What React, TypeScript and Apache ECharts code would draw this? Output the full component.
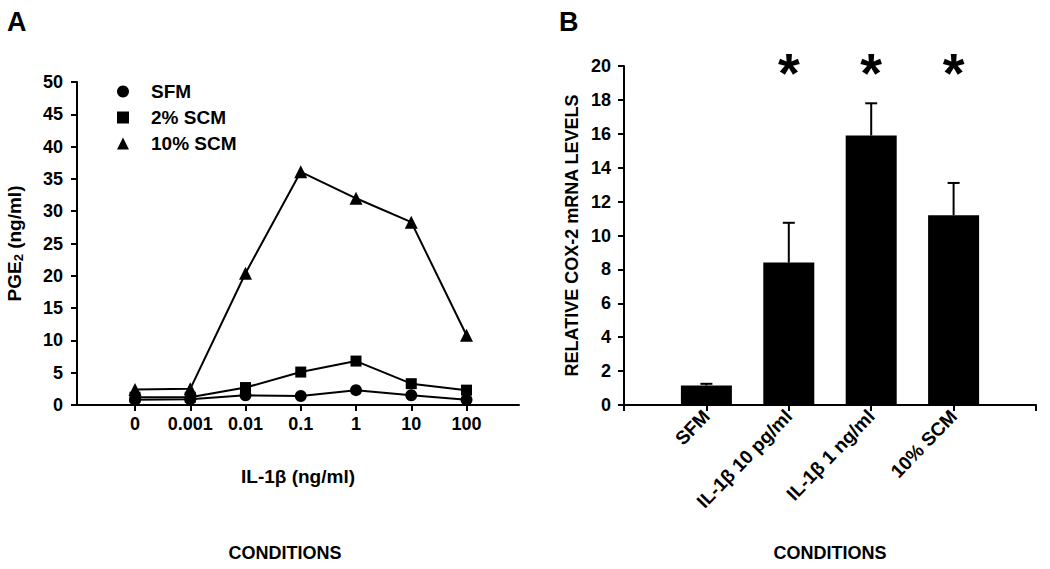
import React, { useEffect, useRef } from "react";
import * as echarts from "echarts";

// Panel A data
const doseLabels = ["0", "0.001", "0.01", "0.1", "1", "10", "100"];
const sfmValues = [0.8, 0.9, 1.5, 1.4, 2.3, 1.5, 0.8];
const scm2Values = [1.2, 1.2, 2.7, 5.1, 6.8, 3.3, 2.3];
const scm10Values = [2.4, 2.5, 20.4, 36.1, 32.0, 28.3, 10.8];

// Panel B data
const conditionLabels = ["", "SFM", "IL-1β 10 pg/ml", "IL-1β 1 ng/ml", "10% SCM", ""];
const mrnaValues = [null, 1.15, 8.4, 15.9, 11.2, null];
const mrnaErrors = [null, 0.1, 2.35, 1.9, 1.9, null];
const significant = [false, false, true, true, true, false];
const starLevel = 19.6;

const FONT = "'Liberation Sans', Arial, Helvetica, sans-serif";
const txt = { color: "#000", fontFamily: FONT, fontWeight: "bold" as const };

export default function App() {
  const ref = useRef<HTMLDivElement>(null);
  useEffect(() => {
    if (!ref.current) return;
    const chart = echarts.init(ref.current, undefined, { renderer: "svg" });
    const axisLine = { show: true, onZero: false, lineStyle: { color: "#000", width: 2 } };
    const axisTick = { show: true, inside: false, length: 6, lineStyle: { color: "#000", width: 2 } };

    const lineSeries = (name: string, data: number[], symbol: string, size: number) => ({
      name,
      type: "line",
      xAxisIndex: 0,
      yAxisIndex: 0,
      data: data.map((v, i) => [i, v]),
      symbol,
      symbolSize: size,
      showAllSymbol: true,
      lineStyle: { color: "#000", width: 2 },
      itemStyle: { color: "#000" },
      z: 3,
    });

    chart.setOption({
      animation: false,
      backgroundColor: "#fff",
      grid: [
        { left: 77, top: 82, width: 442, height: 323 },
        { left: 624, top: 66, width: 412, height: 339 },
      ],
      legend: {
        show: true,
        orient: "vertical",
        left: 112,
        top: 77,
        itemWidth: 12,
        itemHeight: 12,
        itemGap: 7,
        selectedMode: false,
        textStyle: { ...txt, fontSize: 19, padding: [0, 0, 0, 17] },
        data: [
          { name: "SFM", icon: "circle" },
          { name: "2% SCM", icon: "rect" },
          { name: "10% SCM", icon: "triangle" },
        ],
        itemStyle: { color: "#000" },
      },
      xAxis: [
        {
          gridIndex: 0,
          type: "value",
          min: -1.05,
          max: 6.95,
          splitLine: { show: false },
          axisLine,
          axisTick: { ...axisTick, customValues: doseLabels.map((_, i) => i) },
          axisLabel: {
            ...txt,
            fontSize: 18,
            margin: 10,
            customValues: doseLabels.map((_, i) => i),
            formatter: (v: number) => doseLabels[Math.round(v)] ?? "",
          },
          name: "IL-1β (ng/ml)",
          nameLocation: "middle",
          nameGap: 62,
          nameTextStyle: { ...txt, fontSize: 19 },
        },
        {
          gridIndex: 1,
          type: "category",
          data: conditionLabels,
          boundaryGap: false,
          axisLine,
          axisTick: { ...axisTick, alignWithLabel: true, interval: 0 },
          axisLabel: { ...txt, fontSize: 19, rotate: 46, margin: 8, interval: 0 },
          name: "CONDITIONS",
          nameLocation: "middle",
          nameGap: 139,
          nameTextStyle: { ...txt, fontSize: 18 },
        },
      ],
      yAxis: [
        {
          gridIndex: 0,
          type: "value",
          min: 0,
          max: 50,
          interval: 5,
          splitLine: { show: false },
          axisLine,
          axisTick,
          axisLabel: { ...txt, fontSize: 18, margin: 14 },
          name: "{a|PGE}{s|2}{a| (ng/ml)}",
          nameLocation: "middle",
          nameGap: 52,
          nameRotate: 90,
          nameTextStyle: {
            ...txt,
            rich: {
              a: { ...txt, fontSize: 19 },
              s: { ...txt, fontSize: 13, padding: [8, 0, 0, 0] },
            },
          },
        },
        {
          gridIndex: 1,
          type: "value",
          min: 0,
          max: 20,
          interval: 2,
          splitLine: { show: false },
          axisLine,
          axisTick,
          axisLabel: { ...txt, fontSize: 18, margin: 13 },
          name: "RELATIVE COX-2 mRNA LEVELS",
          nameLocation: "middle",
          nameGap: 43,
          nameTextStyle: { ...txt, fontSize: 18 },
        },
      ],
      series: [
        lineSeries("SFM", sfmValues, "circle", 12),
        lineSeries("2% SCM", scm2Values, "rect", 11),
        lineSeries("10% SCM", scm10Values, "triangle", 13),
        {
          name: "mRNA",
          type: "bar",
          xAxisIndex: 1,
          yAxisIndex: 1,
          data: mrnaValues,
          barWidth: 51,
          itemStyle: { color: "#000" },
        },
        {
          name: "err",
          type: "custom",
          xAxisIndex: 1,
          yAxisIndex: 1,
          data: mrnaValues.map((v, i) => (v == null ? [i, null, null] : [i, v, v + (mrnaErrors[i] as number)])),
          renderItem: (params: any, api: any) => {
            const v = api.value(1);
            if (v == null || isNaN(v)) return null;
            const p0 = api.coord([api.value(0), v]);
            const p1 = api.coord([api.value(0), api.value(2)]);
            return {
              type: "group",
              children: [
                { type: "line", shape: { x1: p0[0], y1: p0[1], x2: p1[0], y2: p1[1] }, style: { stroke: "#000", lineWidth: 2 } },
                { type: "line", shape: { x1: p1[0] - 6, y1: p1[1], x2: p1[0] + 6, y2: p1[1] }, style: { stroke: "#000", lineWidth: 2 } },
              ],
            };
          },
          z: 4,
        },
        {
          name: "sig",
          type: "scatter",
          xAxisIndex: 1,
          yAxisIndex: 1,
          symbolSize: 0,
          itemStyle: { color: "#000", opacity: 1 },
          data: significant.map((s, i) => (s ? [i, starLevel] : [i, null])),
          label: {
            show: true,
            position: "inside",
            formatter: "*",
            color: "#000",
            opacity: 1,
            fontFamily: FONT,
            fontWeight: "bold",
            fontSize: 56,
            textBorderWidth: 0,
          },
        },
      ],
      graphic: [
        { type: "text", left: 7, top: 8, style: { text: "A", ...txt, fill: "#000", fontSize: 27 } },
        { type: "text", left: 559, top: 8, style: { text: "B", ...txt, fill: "#000", fontSize: 27 } },
        { type: "text", x: 285, y: 553, style: { text: "CONDITIONS", ...txt, fill: "#000", fontSize: 18, align: "center", verticalAlign: "middle" } },
      ],
    });
    return () => chart.dispose();
  }, []);
  return <div ref={ref} style={{ position: "fixed", left: 0, top: 0, width: 1050, height: 569 }} />;
}
